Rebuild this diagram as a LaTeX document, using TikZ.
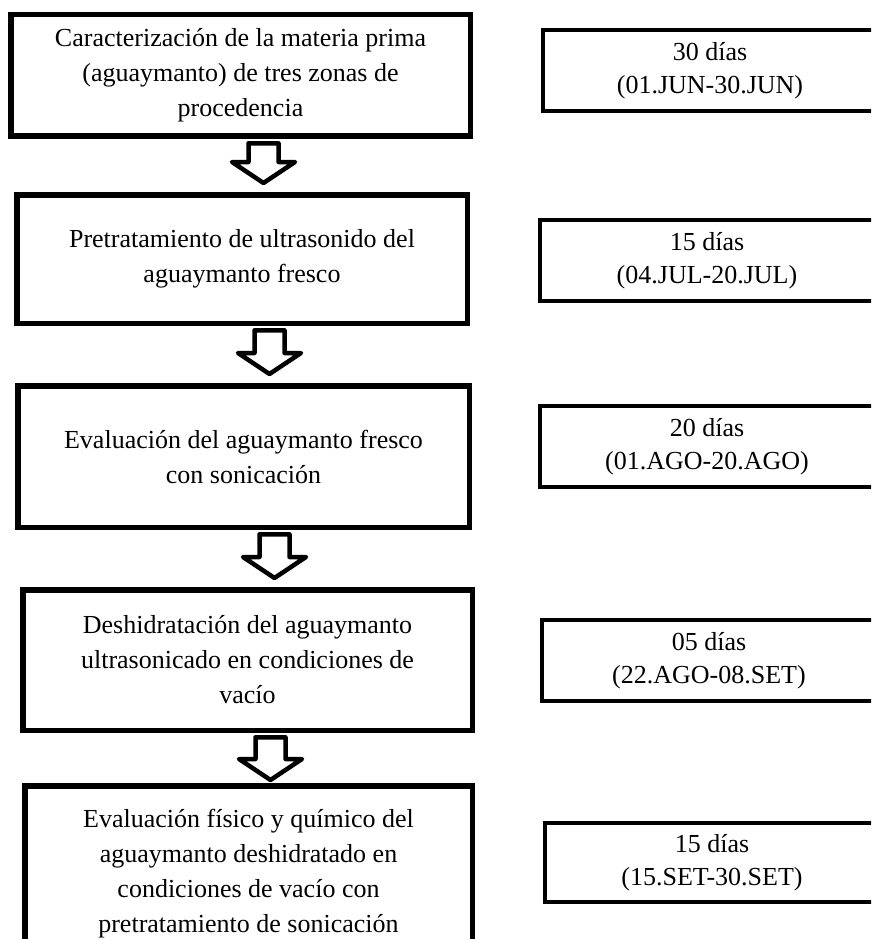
\documentclass[tikz,border=0pt]{standalone}
\usepackage{fontspec}
\setmainfont{Liberation Serif}
\usetikzlibrary{positioning,calc}

\newcommand{\flecha}[4]{%
  \coordinate (#1f) at ($(#1.south)+(#3,7)$);
  \draw[hueca] ($(#1f)+(-15,0)$) -- ($(#1f |- #2.north)+(-15,-#4-21)$) -- ++(-16.5,0)
    -- ($(#1f |- #2.north)+(0,-#4)$) -- ($(#1f |- #2.north)+(31.5,-#4-21)$) -- ++(-16.5,0)
    -- ($(#1f)+(15,0)$) -- cycle;}

\begin{document}
\begin{tikzpicture}[x=1pt,y=-1pt,
  caja/.style={draw,line width=5.5pt,inner sep=0pt,outer sep=0pt,align=center,
    font=\fontsize{26}{35}\selectfont},
  plazo/.style={draw,line width=4pt,inner sep=0pt,outer sep=0pt,align=center,
    minimum width=334pt,minimum height=81pt,font=\fontsize{26}{33}\selectfont},
  hueca/.style={draw,line width=4.5pt,line join=round,fill=white}]
  \useasboundingbox (0,0) rectangle (871,939);
  \clip (0,0) rectangle (871,939);
  \node[caja,minimum width=459.5pt,minimum height=121.5pt] (b1) at (240.5,75.5)
    {Caracterización de la materia prima\\(aguaymanto) de tres zonas de\\procedencia};
  \node[caja,minimum width=450.5pt,minimum height=128.5pt] (b2) at (242,259)
    {Pretratamiento de ultrasonido del\\aguaymanto fresco};
  \node[caja,minimum width=451.5pt,minimum height=141.5pt] (b3) at (243.5,456.5)
    {Evaluación del aguaymanto fresco\\con sonicación};
  \node[caja,minimum width=449.5pt,minimum height=140.5pt] (b4) at (247.5,660)
    {Deshidratación del aguaymanto\\ultrasonicado en condiciones de\\vacío};
  \node[caja,minimum width=447.5pt,minimum height=176.5pt] (b5) at (248.5,874)
    {Evaluación físico y químico del\\aguaymanto deshidratado en\\condiciones de vacío con\\pretratamiento de sonicación};
  \node[plazo] (p1) at (710,71) {30 días\\(01.JUN-30.JUN)};
  \node[plazo] (p2) at (707,260.5) {15 días\\(04.JUL-20.JUL)};
  \node[plazo] (p3) at (707,446.5) {20 días\\(01.AGO-20.AGO)};
  \node[plazo] (p4) at (709,660.5) {05 días\\(22.AGO-08.SET)};
  \node[plazo,minimum height=79pt] (p5) at (712,862.5) {15 días\\(15.SET-30.SET)};
  \flecha{b1}{b2}{23}{11.75}
  \flecha{b2}{b3}{27.5}{11.75}
  \flecha{b3}{b4}{31}{11.75}
  \flecha{b4}{b5}{23}{5.75}
\end{tikzpicture}
\end{document}
